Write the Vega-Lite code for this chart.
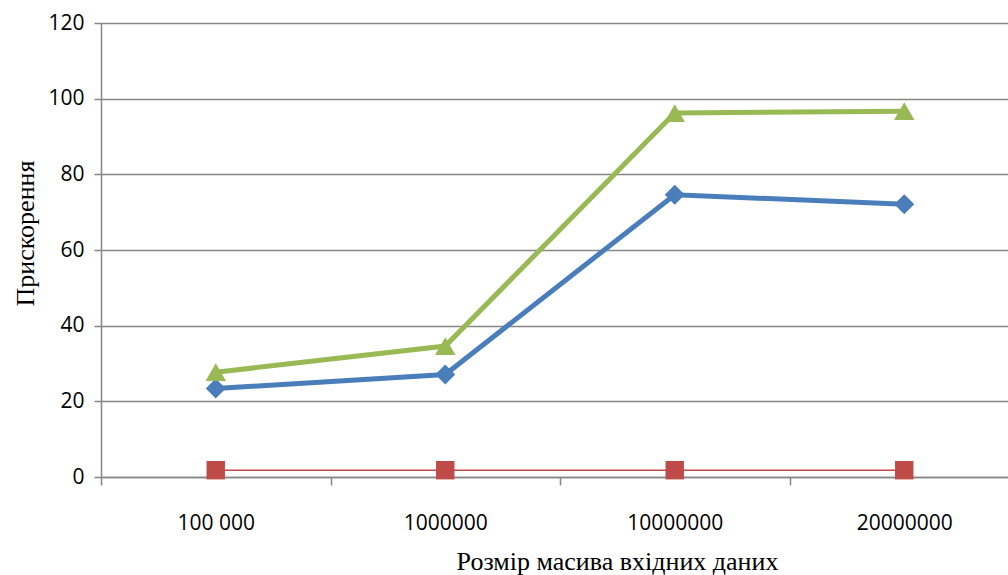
{
  "$schema": "https://vega.github.io/schema/vega-lite/v6.json",
  "autosize": {"type": "none"},
  "width": 918,
  "height": 454,
  "padding": {"left": 101, "top": 23, "right": 0, "bottom": 98},
  "background": "white",
  "data": {
    "values": [
      {"size": "100 000", "series": "A", "value": 23.4},
      {"size": "1000000", "series": "A", "value": 27.1},
      {"size": "10000000", "series": "A", "value": 74.6},
      {"size": "20000000", "series": "A", "value": 72.1},
      {"size": "100 000", "series": "B", "value": 1.8},
      {"size": "1000000", "series": "B", "value": 1.8},
      {"size": "10000000", "series": "B", "value": 1.8},
      {"size": "20000000", "series": "B", "value": 1.8},
      {"size": "100 000", "series": "C", "value": 27.7},
      {"size": "1000000", "series": "C", "value": 34.6},
      {"size": "10000000", "series": "C", "value": 96.2},
      {"size": "20000000", "series": "C", "value": 96.7}
    ]
  },
  "encoding": {
    "x": {
      "field": "size",
      "type": "ordinal",
      "sort": ["100 000", "1000000", "10000000", "20000000"],
      "scale": {"type": "band", "paddingInner": 0, "paddingOuter": 0},
      "axis": {
        "title": "Розмір масива вхідних даних",
        "titleFont": "Liberation Serif",
        "titleFontSize": 26,
        "titleFontWeight": "normal",
        "titleColor": "#000000",
        "titleX": 516,
        "titleY": 92,
        "titleAnchor": "middle",
        "titleAlign": "center",
        "titleBaseline": "alphabetic",
        "labelFont": "Open Sans",
        "labelFontSize": 21,
        "labelColor": "#000000",
        "labelAngle": 0,
        "labelPadding": 27,
        "tickBand": "extent",
        "tickColor": "#868686",
        "tickSize": 8,
        "tickWidth": 1.5,
        "domainColor": "#868686",
        "domainWidth": 1.5,
        "grid": false
      }
    },
    "y": {
      "field": "value",
      "type": "quantitative",
      "scale": {"domain": [0, 120], "nice": false},
      "axis": {
        "title": "Прискорення",
        "titleFont": "Liberation Serif",
        "titleFontSize": 26,
        "titleFontWeight": "normal",
        "titleColor": "#000000",
        "titleX": -76,
        "titleY": 210,
        "titleAngle": -90,
        "titleAlign": "center",
        "titleBaseline": "middle",
        "values": [0, 20, 40, 60, 80, 100, 120],
        "labelFont": "Open Sans",
        "labelFontSize": 21,
        "labelColor": "#000000",
        "labelPadding": 10,
        "tickColor": "#868686",
        "tickSize": 7,
        "tickWidth": 1.5,
        "domainColor": "#868686",
        "domainWidth": 1.5,
        "gridColor": "#868686",
        "gridWidth": 1.5
      }
    }
  },
  "layer": [
    {
      "mark": {"type": "line"},
      "encoding": {
        "detail": {"field": "series"},
        "color": {
          "field": "series",
          "type": "nominal",
          "scale": {"domain": ["A", "B", "C"], "range": ["#4a7ebb", "#be4b48", "#98b954"]},
          "legend": null
        },
        "strokeWidth": {
          "condition": {"test": "datum.series === 'B'", "value": 1.5},
          "value": 5
        }
      }
    },
    {
      "mark": {"type": "point", "filled": true, "opacity": 1},
      "encoding": {
        "color": {
          "field": "series",
          "type": "nominal",
          "scale": {"domain": ["A", "B", "C"], "range": ["#4a7ebb", "#be4b48", "#98b954"]},
          "legend": null
        },
        "shape": {
          "field": "series",
          "type": "nominal",
          "scale": {"domain": ["A", "B", "C"], "range": ["diamond", "square", "triangle-up"]},
          "legend": null
        },
        "size": {
          "condition": [
            {"test": "datum.series === 'C'", "value": 420},
            {"test": "datum.series === 'B'", "value": 340}
          ],
          "value": 400
        }
      }
    }
  ],
  "config": {"view": {"stroke": null}}
}
